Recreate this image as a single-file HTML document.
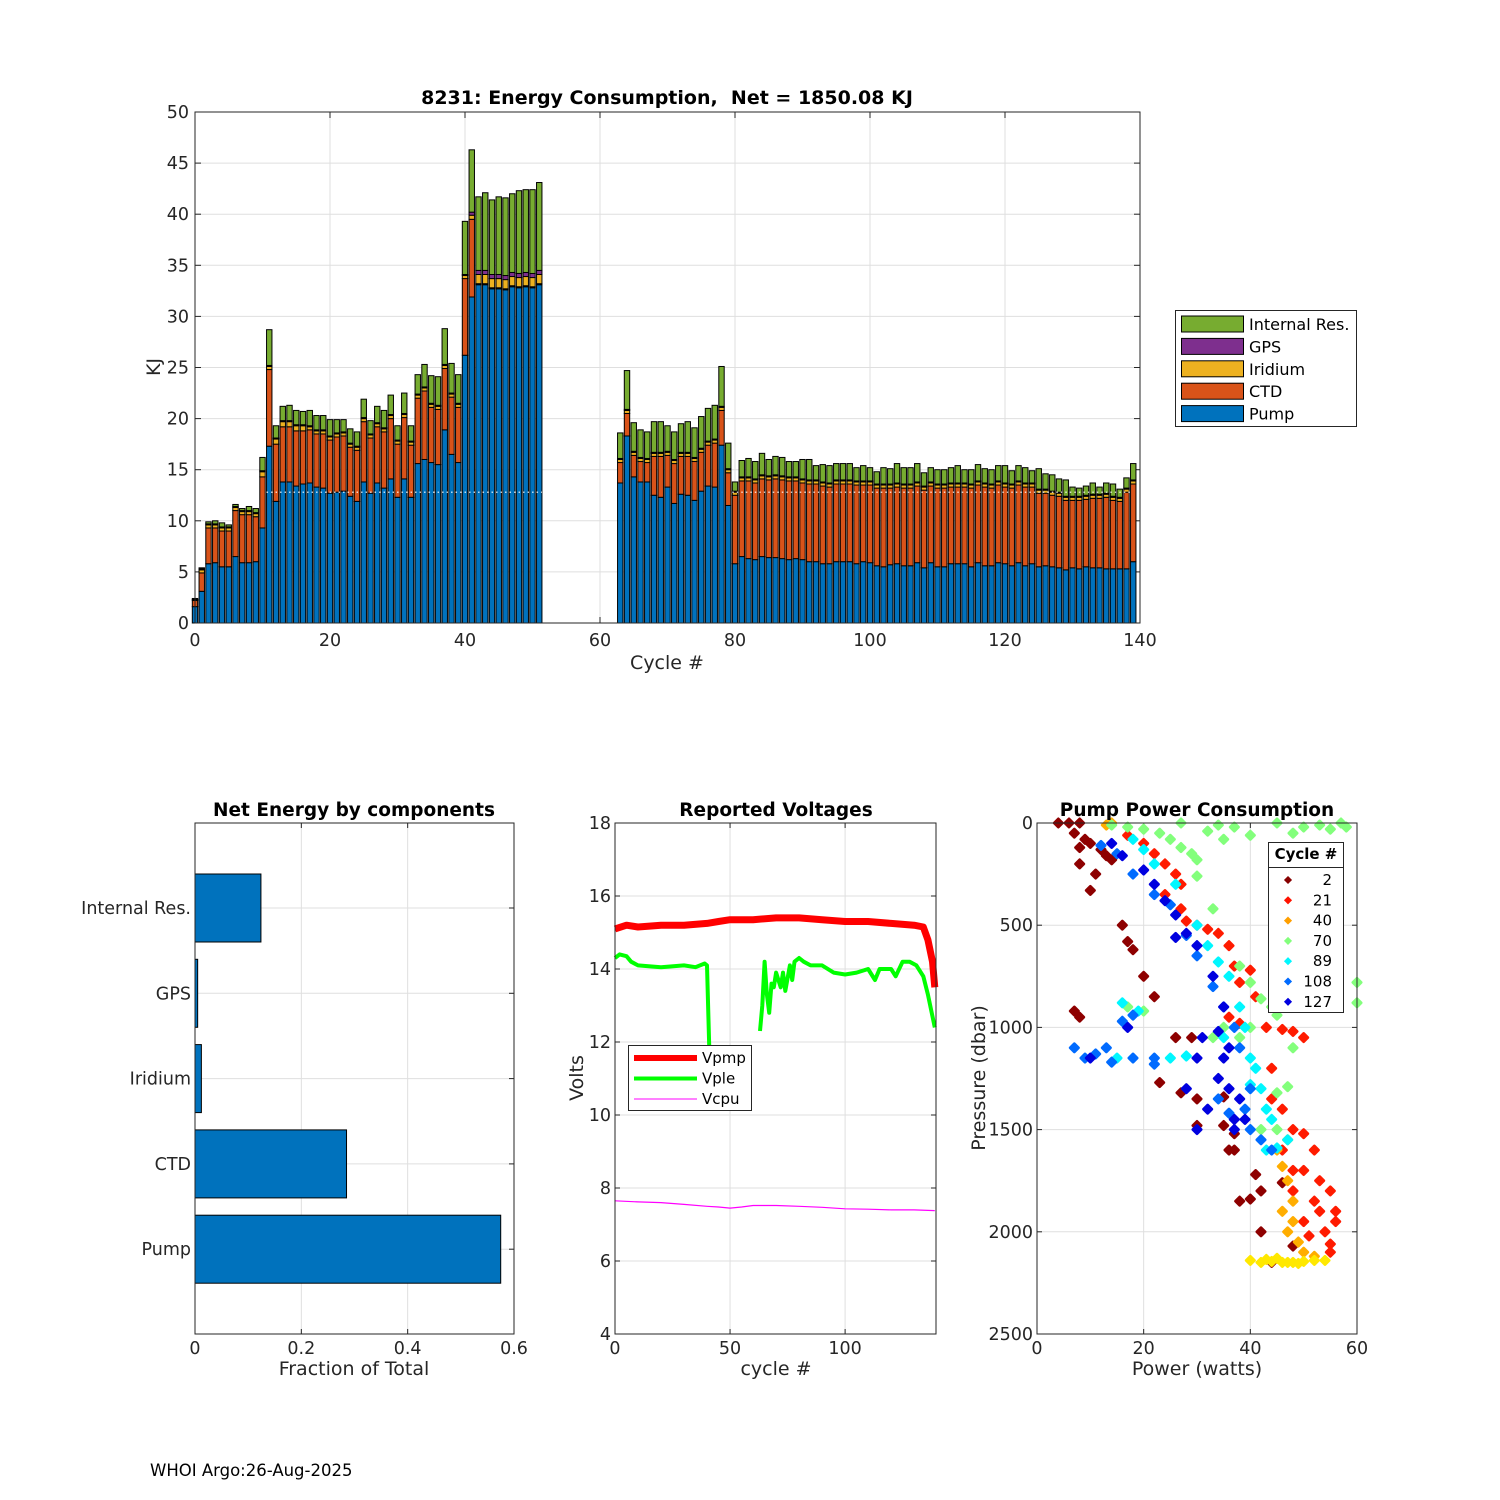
<!DOCTYPE html>
<html><head><meta charset="utf-8"><style>
html,body{margin:0;padding:0;background:#fff;}
svg{display:block;font-family:"DejaVu Sans","Liberation Sans",sans-serif;}
</style></head><body>
<svg id="fig" width="1500" height="1500" viewBox="0 0 1500 1500" xmlns="http://www.w3.org/2000/svg">
<rect width="1500" height="1500" fill="#fff"/>
<g id="top"></g>
<g id="comp"></g>
<g id="volt"></g>
<g id="pump"></g>
<text x="150" y="1476" font-size="16.5" fill="#000">WHOI Argo:26-Aug-2025</text>
</svg>
<script>
// ===== Energy consumption data =====
const cycles1 = [0,1,2,3,4,5,6,7,8,9,10,11,12,13,14,15,16,17,18,19,20,21,22,23,24,25,26,27,28,29,30,31,32,33,34,35,36,37,38,39,40,41,42,43,44,45,46,47,48,49,50,51];
const pump1 = [1.6,3.1,5.8,5.9,5.5,5.5,6.5,5.9,5.9,6.0,9.3,17.3,11.9,13.8,13.8,13.4,13.6,13.7,13.3,13.2,12.7,12.8,12.9,12.4,11.9,13.8,12.7,13.7,13.2,14.1,12.3,14.1,12.3,15.6,16.0,15.7,15.5,18.9,16.5,15.7,26.2,31.9,33.1,33.1,32.7,32.7,32.6,32.9,32.8,32.9,32.8,33.1];
const ctd1 = [0.6,1.8,3.5,3.4,3.5,3.5,4.5,4.7,4.7,4.4,5.0,7.5,5.6,5.4,5.4,5.4,5.2,5.2,5.2,5.3,5.2,5.4,5.4,4.8,5.0,5.9,5.4,5.5,5.5,5.9,5.2,6.0,5.1,6.4,6.7,5.4,5.4,6.0,5.6,5.4,7.5,7.6,0.1,0.1,0.1,0.1,0.1,0.1,0.1,0.1,0.1,0.1];
const irid1 = [0.1,0.3,0.3,0.3,0.3,0.3,0.3,0.3,0.3,0.3,0.5,0.3,0.5,0.5,0.5,0.5,0.5,0.3,0.3,0.3,0.3,0.3,0.3,0.3,0.3,0.3,0.3,0.3,0.3,0.3,0.3,0.3,0.3,0.3,0.3,0.3,0.3,0.3,0.3,0.3,0.3,0.4,0.9,0.9,0.9,0.9,0.9,0.9,0.9,0.9,0.9,0.9];
const gps1 = [0,0.1,0.1,0.1,0.1,0.1,0.1,0.1,0.1,0.1,0.1,0.1,0.1,0.1,0.1,0.1,0.1,0.1,0.1,0.1,0.1,0.1,0.1,0.1,0.1,0.1,0.1,0.1,0.1,0.1,0.1,0.1,0.1,0.1,0.1,0.1,0.1,0.1,0.1,0.1,0.1,0.3,0.4,0.4,0.4,0.4,0.4,0.4,0.4,0.4,0.4,0.4];
const intr1 = [0.1,0.1,0.2,0.3,0.4,0.2,0.2,0.2,0.4,0.4,1.3,3.5,1.2,1.4,1.5,1.4,1.3,1.5,1.4,1.4,1.6,1.3,1.2,1.4,1.4,1.8,1.3,1.6,1.7,1.9,1.4,2.0,1.5,1.9,2.2,2.7,2.8,3.5,2.9,2.8,5.2,6.1,7.2,7.6,7.3,7.6,7.6,7.7,8.1,8.1,8.2,8.6];
const cycles2 = [63,64,65,66,67,68,69,70,71,72,73,74,75,76,77,78,79,80,81,82,83,84,85,86,87,88,89,90,91,92,93,94,95,96,97,98,99,100,101,102,103,104,105,106,107,108,109,110,111,112,113,114,115,116,117,118,119,120,121,122,123,124,125,126,127,128,129,130,131,132,133,134,135,136,137,138,139];
const pump2 = [13.7,18.3,14.3,13.8,13.8,12.5,12.3,13.3,11.7,12.6,12.5,12.0,12.9,13.4,13.3,17.4,11.5,5.8,6.5,6.3,6.2,6.5,6.4,6.4,6.3,6.2,6.3,6.2,6.0,6.0,5.8,5.8,6.0,6.0,6.0,5.8,6.0,5.9,5.6,5.5,5.7,5.8,5.6,5.6,5.9,5.4,5.9,5.5,5.5,5.8,5.8,5.8,5.5,5.9,5.6,5.6,5.9,5.8,5.6,5.9,5.6,5.8,5.5,5.6,5.5,5.4,5.2,5.4,5.3,5.5,5.4,5.4,5.3,5.3,5.3,5.3,6.0];
const ctd2 = [2.0,2.2,2.1,2.0,1.9,3.8,4.0,3.1,3.9,3.7,3.8,3.8,3.8,4.0,4.3,3.4,3.2,6.7,7.4,7.6,7.5,7.6,7.6,7.7,7.7,7.7,7.6,7.5,7.6,7.6,7.6,7.5,7.6,7.6,7.6,7.7,7.5,7.6,7.6,7.7,7.5,7.5,7.6,7.6,7.5,7.6,7.5,7.7,7.7,7.5,7.5,7.5,7.7,7.6,7.7,7.6,7.6,7.5,7.6,7.6,7.7,7.5,7.2,7.1,7.0,7.0,6.8,6.6,6.7,6.6,6.8,6.8,7.0,6.7,6.6,7.5,7.6];
const irid2 = [0.3,0.3,0.3,0.3,0.3,0.3,0.3,0.3,0.3,0.3,0.3,0.3,0.3,0.3,0.3,0.3,0.3,0.3,0.3,0.3,0.3,0.3,0.3,0.3,0.3,0.3,0.3,0.3,0.3,0.3,0.3,0.3,0.3,0.3,0.3,0.3,0.3,0.3,0.3,0.3,0.3,0.3,0.3,0.3,0.3,0.3,0.3,0.3,0.3,0.3,0.3,0.3,0.3,0.3,0.3,0.3,0.3,0.3,0.3,0.3,0.3,0.3,0.3,0.3,0.3,0.3,0.3,0.3,0.3,0.3,0.3,0.3,0.3,0.3,0.3,0.3,0.3];
const gps2 = [0.1,0.1,0.1,0.1,0.1,0.1,0.1,0.1,0.1,0.1,0.1,0.1,0.1,0.1,0.1,0.1,0.1,0.1,0.1,0.1,0.1,0.1,0.1,0.1,0.1,0.1,0.1,0.1,0.1,0.1,0.1,0.1,0.1,0.1,0.1,0.1,0.1,0.1,0.1,0.1,0.1,0.1,0.1,0.1,0.1,0.1,0.1,0.1,0.1,0.1,0.1,0.1,0.1,0.1,0.1,0.1,0.1,0.1,0.1,0.1,0.1,0.1,0.1,0.1,0.1,0.1,0.1,0.1,0.1,0.1,0.1,0.1,0.1,0.1,0.1,0.1,0.1];
const intr2 = [2.5,3.8,2.8,2.7,2.6,3.0,3.0,2.5,2.7,2.8,3.0,2.9,3.1,3.2,3.3,3.9,2.5,0.9,1.6,1.8,1.7,2.1,1.6,1.8,1.8,1.5,1.5,1.9,2.0,1.4,1.7,1.7,1.6,1.6,1.6,1.3,1.5,1.3,1.2,1.6,1.5,1.9,1.6,1.6,1.8,1.3,1.4,1.4,1.4,1.5,1.7,1.3,1.4,1.6,1.4,1.4,1.5,1.7,1.3,1.5,1.5,1.2,2.0,1.5,1.6,1.3,1.6,0.9,0.8,0.9,1.1,0.7,1.0,1.2,0.8,1.0,1.6];
const yTicksTop = [0,5,10,15,20,25,30,35,40,45,50];
const xTicksTop = [0,20,40,60,80,100,120,140];
const legendNames = ["Internal Res.","GPS","Iridium","CTD","Pump"];
// ===== Component fractions =====
const compNames = ["Internal Res.","GPS","Iridium","CTD","Pump"];
const compFrac = [0.124,0.005,0.012,0.285,0.575];
const compTicks = [0,0.2,0.4,0.6];
// ===== Voltages =====
const vpmpC = [0,5,10,20,30,40,45,50,60,70,80,90,100,110,120,130,134,136,138,139];
const vpmpV = [15.1,15.2,15.15,15.2,15.2,15.25,15.3,15.35,15.35,15.4,15.4,15.35,15.3,15.3,15.25,15.2,15.15,14.8,14.2,13.5];
const vpleC1 = [0,2,5,7,10,20,30,35,39,40,41];
const vpleV1 = [14.3,14.4,14.35,14.2,14.1,14.05,14.1,14.05,14.15,14.1,11.8];
const vpleC2 = [63,64,65,66,67,68,69,70,72,73,74,76,77,78,80,82,85,90,95,100,105,110,113,115,120,122,125,128,131,134,136,138,139];
const vpleV2 = [12.3,13.0,14.2,13.3,12.8,13.6,13.5,13.9,13.5,13.9,13.4,14.1,13.7,14.2,14.3,14.2,14.1,14.1,13.9,13.85,13.9,14.0,13.7,14.0,14.0,13.8,14.2,14.2,14.1,13.8,13.3,12.7,12.4];
const vcpuC = [0,10,20,30,40,45,50,55,60,70,80,90,100,110,120,130,139];
const vcpuV = [7.65,7.62,7.6,7.55,7.5,7.48,7.45,7.48,7.52,7.52,7.5,7.47,7.43,7.42,7.4,7.4,7.38];
const voltYTicks = [4,6,8,10,12,14,16,18];
const voltXTicks = [0,50,100];
// ===== Pump power scatter (cycle, watts, dbar) =====
const scCycle = [];
const scPower = [];
const scPres = [];
const grpCycles = [3,22,42,50,70,89,108,127];
const grpPower = [
[4,6,8,7,9,10,8,12,13,14,8,11,10,16,17,18,20,22,26,29,23,27,30,7,8,30,35,37,36,38,40,42,37,48,44,42,35,46,41],
[17,20,22,24,26,27,24,27,28,30,32,34,36,37,40,38,41,36,38,43,46,48,50,44,44,46,48,50,52,48,53,55,52,56,54,53,50,55,56,48,51,55,50,46],
[14,13,47,46,47,48,46,47,49,50,45,48,52],
[40,42,44,46,48,50,52,54,45,49,43,47],
[14,17,20,23,25,27,29,30,30,33,40,34,37,45,50,55,58,48,53,57,35,32,27,38,40,42,44,45,48,38,35,40,17,20,47,45,60,60,42,45,33],
[18,20,22,26,30,32,34,36,38,40,42,44,43,45,47,40,35,15,16,19,25,28,43,41,39],
[12,15,18,22,25,28,30,33,35,37,38,40,39,40,42,44,13,7,9,11,14,18,22,16,18,22,34,36],
[14,16,20,22,24,26,28,26,30,33,35,34,31,36,30,34,36,38,39,37,32,30,28,10,17,35,37]];
const grpPres = [
[0,0,0,50,80,100,120,130,160,180,200,250,330,500,580,620,750,850,1050,1050,1270,1320,1350,920,950,1480,1480,1520,1600,1850,1840,1800,1600,2070,2150,2000,1340,1760,1720],
[60,100,150,200,250,300,350,420,480,500,520,540,600,700,720,780,850,950,980,1000,1010,1020,1050,1200,1350,1400,1500,1520,1600,1700,1750,1800,1850,1950,2000,1900,1950,2060,1900,1800,2020,2100,1700,1600],
[0,10,1550,1680,1750,1850,1900,2000,2050,2100,1600,1950,2120],
[2140,2150,2145,2150,2150,2145,2140,2140,2130,2155,2135,2150],
[10,20,30,50,80,120,150,180,260,420,60,10,20,0,20,30,20,50,10,0,80,40,0,700,780,860,900,940,1100,1050,1000,1000,900,920,1290,1320,780,880,1500,1500,1050],
[80,130,200,300,500,600,680,750,900,1150,1300,1450,1600,1590,1550,1280,1050,1150,880,920,1150,1140,1400,1200,1000],
[110,150,250,350,400,550,650,800,900,1000,1100,1300,1400,1500,1550,1600,1100,1100,1150,1130,1170,1150,1180,970,940,1150,1350,1420],
[100,160,230,300,380,450,540,560,600,750,900,1020,1050,1100,1150,1250,1300,1350,1450,1500,1400,1500,1300,1150,1000,1150,1450]];
const pPressTicks = [0,500,1000,1500,2000,2500];
const pPowerTicks = [0,20,40,60];
const legCycles = [2,21,40,70,89,108,127];

const NS = "http://www.w3.org/2000/svg";
function mk(parent, tag, attrs, text){
  const e = document.createElementNS(NS, tag);
  for (const k in attrs) e.setAttribute(k, attrs[k]);
  if (text !== undefined) e.textContent = text;
  parent.appendChild(e);
  return e;
}
const AX = "#262626", GRID = "#dfdfdf", FS = 17.5, TFS = 19, HFS = 18.5;

// ===== TOP CHART =====
(function(){
  const g = document.getElementById('top');
  const L=195,R=1140,T=112,B=623;
  const xs = v => L + (v/140)*(R-L);
  const ys = v => B - (v/50)*(B-T);
  yTicksTop.forEach(v=>{
    const ln = mk(g,'line',{x1:L,x2:R,y1:ys(v),y2:ys(v),stroke:GRID,'stroke-width':1});
    
    
    const t = mk(g,'text',{x:L-6,y:ys(v)+6,'text-anchor':'end','font-size':FS,fill:AX},String(v));
    
    
    mk(g,'line',{x1:L,x2:L+6,y1:ys(v),y2:ys(v),stroke:AX});
    mk(g,'line',{x1:R,x2:R-6,y1:ys(v),y2:ys(v),stroke:AX});
  });
  xTicksTop.forEach(v=>{
    const ln = mk(g,'line',{x1:xs(v),x2:xs(v),y1:T,y2:B,stroke:GRID});
    
    
    const t = mk(g,'text',{x:xs(v),y:B+23,'text-anchor':'middle','font-size':FS,fill:AX},String(v));
    
    
    mk(g,'line',{x1:xs(v),x2:xs(v),y1:B,y2:B-6,stroke:AX});
    mk(g,'line',{x1:xs(v),x2:xs(v),y1:T,y2:T+6,stroke:AX});
  });
  const colors = ["#0072BD","#D95319","#EDB120","#7E2F8E","#77AC30"];
  const bw = 0.8*(R-L)/140;
  function drawSeg(cyc,p,c,ir,gp,inn){
    cyc.forEach((cy,i)=>{
      const vals=[p[i],c[i],ir[i],gp[i],inn[i]];
      let base=0;
      vals.forEach((v,k)=>{
        const r = mk(g,'rect',{x:xs(cy)-bw/2,y:ys(base+v),width:bw,height:Math.max(0,ys(base)-ys(base+v)),fill:colors[k],stroke:'#000','stroke-width':1});
        
        
        base+=v;
      });
    });
  }
  drawSeg(cycles1,pump1,ctd1,irid1,gps1,intr1);
  drawSeg(cycles2,pump2,ctd2,irid2,gps2,intr2);
  mk(g,'line',{x1:xs(10.6),x2:xs(51.4),y1:ys(12.8),y2:ys(12.8),stroke:'#fff','stroke-dasharray':'1.5 3','stroke-width':1.2});
  mk(g,'line',{x1:xs(79.6),x2:xs(138.5),y1:ys(12.8),y2:ys(12.8),stroke:'#fff','stroke-dasharray':'1.5 3','stroke-width':1.2});
  const box = mk(g,'rect',{x:L,y:T,width:R-L,height:B-T,fill:'none',stroke:AX,'stroke-width':1});
  
  
  const ti = mk(g,'text',{x:667,y:104,'text-anchor':'middle','font-size':19,'font-weight':'bold',fill:'#000'},"8231: Energy Consumption,\u00a0 Net = 1850.08 KJ");
  
  
  const xl = mk(g,'text',{x:667,y:669,'text-anchor':'middle','font-size':TFS,fill:AX},"Cycle #");
  
  
  const yl = mk(g,'text',{x:0,y:0,'text-anchor':'middle','font-size':TFS,fill:AX,transform:'translate(160,367) rotate(-90)'},"KJ");
  
  
  // legend
  const lg = mk(g,'g',{});
  
  
  mk(lg,'rect',{x:1175.5,y:310.5,width:181,height:116,fill:'#fff',stroke:AX});
  const legCols = ["#77AC30","#7E2F8E","#EDB120","#D95319","#0072BD"];
  legendNames.forEach((n,i)=>{
    const y = 324 + i*22.4;
    const e = mk(lg,'g',{});
    
    
    mk(e,'rect',{x:1181.5,y:y-8,width:62,height:16,fill:legCols[i],stroke:'#000'});
    mk(e,'text',{x:1249,y:y+6,'font-size':16,fill:'#000'},n);
  });
})();

// ===== COMPONENTS CHART =====
(function(){
  const g = document.getElementById('comp');
  const L=195,R=514,T=823,B=1334;
  const xs = v => L + (v/0.6)*(R-L);
  const yc = i => 908 + i*85.3;
  compTicks.forEach(v=>{
    mk(g,'line',{x1:xs(v),x2:xs(v),y1:T,y2:B,stroke:GRID});
    const t = mk(g,'text',{x:xs(v),y:B+20,'text-anchor':'middle','font-size':FS,fill:AX},String(v));
    
    
    mk(g,'line',{x1:xs(v),x2:xs(v),y1:B,y2:B-5,stroke:AX});
    mk(g,'line',{x1:xs(v),x2:xs(v),y1:T,y2:T+5,stroke:AX});
  });
  compNames.forEach((n,i)=>{
    mk(g,'line',{x1:L,x2:R,y1:yc(i),y2:yc(i),stroke:GRID});
    mk(g,'line',{x1:R,x2:R-5,y1:yc(i),y2:yc(i),stroke:AX});
    const b = mk(g,'rect',{x:L,y:yc(i)-34,width:xs(compFrac[i])-L,height:68,fill:'#0072BD',stroke:'#000'});
    
    
    const t = mk(g,'text',{x:L-4,y:yc(i)+6,'text-anchor':'end','font-size':FS,fill:AX},n);
    
    
  });
  mk(g,'rect',{x:L,y:T,width:R-L,height:B-T,fill:'none',stroke:AX});
  const ti = mk(g,'text',{x:354,y:816,'text-anchor':'middle','font-size':HFS,'font-weight':'bold',fill:'#000'},"Net Energy by components");
  
  
  const xl = mk(g,'text',{x:354,y:1375,'text-anchor':'middle','font-size':TFS,fill:AX},"Fraction of Total");
  
  
})();

// ===== VOLTAGES CHART =====
(function(){
  const g = document.getElementById('volt');
  const L=615,R=936,T=823,B=1334;
  const xs = v => L + (v/139.5)*(R-L);
  const ys = v => B - ((v-4)/14)*(B-T);
  voltYTicks.forEach(v=>{
    mk(g,'line',{x1:L,x2:R,y1:ys(v),y2:ys(v),stroke:GRID});
    const t = mk(g,'text',{x:L-4,y:ys(v)+6,'text-anchor':'end','font-size':FS,fill:AX},String(v));
    
    
    mk(g,'line',{x1:L,x2:L+5,y1:ys(v),y2:ys(v),stroke:AX});
    mk(g,'line',{x1:R,x2:R-5,y1:ys(v),y2:ys(v),stroke:AX});
  });
  voltXTicks.forEach(v=>{
    mk(g,'line',{x1:xs(v),x2:xs(v),y1:T,y2:B,stroke:GRID});
    const t = mk(g,'text',{x:xs(v),y:B+20,'text-anchor':'middle','font-size':FS,fill:AX},String(v));
    
    
    mk(g,'line',{x1:xs(v),x2:xs(v),y1:B,y2:B-5,stroke:AX});
    mk(g,'line',{x1:xs(v),x2:xs(v),y1:T,y2:T+5,stroke:AX});
  });
  const pts = (c,v)=>c.map((cc,i)=>xs(cc).toFixed(1)+','+ys(v[i]).toFixed(1)).join(' ');
  const l1 = mk(g,'polyline',{points:pts(vpmpC,vpmpV),fill:'none',stroke:'#ff0000','stroke-width':7,'stroke-linejoin':'round'});
  
  
  const l2 = mk(g,'polyline',{points:pts(vpleC1,vpleV1),fill:'none',stroke:'#00ff00','stroke-width':4,'stroke-linejoin':'round'});
  
  
  const l3 = mk(g,'polyline',{points:pts(vpleC2,vpleV2),fill:'none',stroke:'#00ff00','stroke-width':4,'stroke-linejoin':'round'});
  
  
  const l4 = mk(g,'polyline',{points:pts(vcpuC,vcpuV),fill:'none',stroke:'#ff00ff','stroke-width':1.2});
  
  
  mk(g,'rect',{x:L,y:T,width:R-L,height:B-T,fill:'none',stroke:AX});
  const lg = mk(g,'g',{});
  
  
  mk(lg,'rect',{x:628.5,y:1045.5,width:123,height:65,fill:'#fff',stroke:AX});
  [["Vpmp","#ff0000",6],["Vple","#00ff00",4],["Vcpu","#ff00ff",1]].forEach((d,i)=>{
    const y = 1058 + i*20.5;
    const e = mk(lg,'g',{});
    
    
    mk(e,'line',{x1:634,x2:697,y1:y,y2:y,stroke:d[1],'stroke-width':d[2]});
    mk(e,'text',{x:702,y:y+5,'font-size':15,fill:'#000'},d[0]);
  });
  const ti = mk(g,'text',{x:776,y:816,'text-anchor':'middle','font-size':HFS,'font-weight':'bold',fill:'#000'},"Reported Voltages");
  
  
  const xl = mk(g,'text',{x:776,y:1375,'text-anchor':'middle','font-size':TFS,fill:AX},"cycle #");
  
  
  const yl = mk(g,'text',{x:0,y:0,'text-anchor':'middle','font-size':TFS,fill:AX,transform:'translate(583,1078) rotate(-90)'},"Volts");
  
  
})();

// ===== PUMP POWER SCATTER =====
function jetRev(c){
  const t = 1 - (c-1)/139;
  const cl = v => Math.round(255*Math.max(0,Math.min(1,v)));
  return 'rgb('+cl(1.5-Math.abs(4*t-3))+','+cl(1.5-Math.abs(4*t-2))+','+cl(1.5-Math.abs(4*t-1))+')';
}
grpCycles.forEach((c,gi)=>{
  grpPower[gi].forEach((p,j)=>{ scCycle.push(c); scPower.push(p); scPres.push(grpPres[gi][j]); });
});
(function(){
  const g = document.getElementById('pump');
  const L=1037,R=1357,T=823,B=1334;
  const xs = v => L + (v/60)*(R-L);
  const ys = v => T + (v/2500)*(B-T);
  pPressTicks.forEach(v=>{
    mk(g,'line',{x1:L,x2:R,y1:ys(v),y2:ys(v),stroke:GRID});
    const t = mk(g,'text',{x:L-4,y:ys(v)+6,'text-anchor':'end','font-size':FS,fill:AX},String(v));
    
    
    mk(g,'line',{x1:L,x2:L+5,y1:ys(v),y2:ys(v),stroke:AX});
    mk(g,'line',{x1:R,x2:R-5,y1:ys(v),y2:ys(v),stroke:AX});
  });
  pPowerTicks.forEach(v=>{
    mk(g,'line',{x1:xs(v),x2:xs(v),y1:T,y2:B,stroke:GRID});
    const t = mk(g,'text',{x:xs(v),y:B+20,'text-anchor':'middle','font-size':FS,fill:AX},String(v));
    
    
    mk(g,'line',{x1:xs(v),x2:xs(v),y1:B,y2:B-5,stroke:AX});
    mk(g,'line',{x1:xs(v),x2:xs(v),y1:T,y2:T+5,stroke:AX});
  });
  scPower.forEach((p,i)=>{
    const x = xs(p), y = ys(scPres[i]);
    const d = mk(g,'path',{d:`M${x-4},${y}L${x},${y-4}L${x+4},${y}L${x},${y+4}Z`,fill:jetRev(scCycle[i]),stroke:jetRev(scCycle[i]),'stroke-width':3,'stroke-linejoin':'round'});
    
    
  });
  mk(g,'rect',{x:L,y:T,width:R-L,height:B-T,fill:'none',stroke:AX});
  const lg = mk(g,'g',{});
  
  
  mk(lg,'rect',{x:1268.5,y:842.5,width:75,height:170,fill:'#fff',stroke:AX});
  mk(lg,'text',{x:1306,y:859,'text-anchor':'middle','font-size':15,'font-weight':'bold',fill:'#000'},"Cycle #");
  mk(lg,'line',{x1:1268.5,x2:1343.5,y1:867.5,y2:867.5,stroke:AX});
  legCycles.forEach((c,i)=>{
    const y = 880 + i*20.3;
    const e = mk(lg,'g',{});
    
    
    mk(e,'path',{d:`M1288,${y-3}L1291,${y}L1288,${y+3}L1285,${y}Z`,fill:jetRev(c),stroke:jetRev(c),'stroke-width':1.5});
    mk(e,'text',{x:1332,y:y+5,'text-anchor':'end','font-size':15,fill:'#000'},String(c));
  });
  const ti = mk(g,'text',{x:1197,y:816,'text-anchor':'middle','font-size':HFS,'font-weight':'bold',fill:'#000'},"Pump Power Consumption");
  
  
  const xl = mk(g,'text',{x:1197,y:1375,'text-anchor':'middle','font-size':TFS,fill:AX},"Power (watts)");
  
  
  const yl = mk(g,'text',{x:0,y:0,'text-anchor':'middle','font-size':TFS,fill:AX,transform:'translate(985,1078) rotate(-90)'},"Pressure (dbar)");
  
  
})();
</script>
</body></html>
